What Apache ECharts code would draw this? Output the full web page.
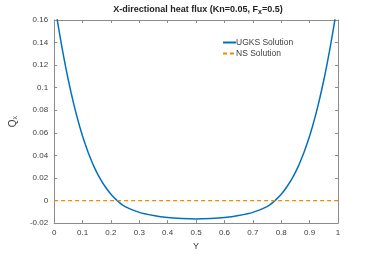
<!DOCTYPE html>
<html>
<head>
<meta charset="utf-8">
<script src="https://cdn.jsdelivr.net/npm/echarts@6/dist/echarts.min.js"></script>
<style>html,body{margin:0;padding:0;background:#fff}#c{width:374px;height:256px}</style>
</head>
<body>
<div id="c"></div>
<script>
const yPos = [0,0.01,0.02,0.03,0.04,0.05,0.06,0.07,0.08,0.09,0.10,0.11,0.12,0.14,0.16,0.18,0.20,0.225,0.25,0.30,0.35,0.40,0.45,0.50,
  0.55,0.60,0.65,0.70,0.75,0.775,0.80,0.82,0.84,0.86,0.88,0.89,0.90,0.91,0.92,0.93,0.94,0.95,0.96,0.97,0.98,0.99,1.0];
const qUgks = [0.1777,0.1616,0.1466,0.1324,0.1192,0.1068,0.0953,0.0846,0.0747,0.0656,0.0572,0.0496,0.0426,0.0303,0.0203,0.0122,0.0056,-0.0007,-0.0054,-0.0105,-0.0132,-0.0150,-0.0159,-0.0163,
  -0.0159,-0.0150,-0.0132,-0.0105,-0.0054,-0.0007,0.0056,0.0122,0.0203,0.0303,0.0426,0.0496,0.0572,0.0656,0.0747,0.0846,0.0953,0.1068,0.1192,0.1324,0.1466,0.1616,0.1777];
const nsPos = [0, 1];
const qNs = [0, 0];
const xTicks = {min: 0, max: 1, interval: 0.1};
const yTicks = {min: -0.02, max: 0.16, interval: 0.02};
const seriesNames = ['UGKS Solution', 'NS Solution'];

const axisColor = '#8c8c8c';
const textColor = '#404040';
const font = 'Liberation Sans, Arial, Helvetica, sans-serif';

const chart = echarts.init(document.getElementById('c'), null, {renderer: 'canvas'});
function axisBase(show, margin) {
  return {
    axisLine: {show: true, onZero: false, lineStyle: {color: axisColor, width: 1}},
    axisTick: {show: true, inside: true, length: 3, lineStyle: {color: axisColor}},
    splitLine: {show: false},
    axisLabel: {show: show, margin: margin, color: textColor, fontSize: 8, fontFamily: font}
  };
}
chart.setOption({
  animation: false,
  backgroundColor: '#fff',
  title: {
    text: 'X-directional heat flux (Kn=0.05, F{sub|x}=0.5)',
    left: 193, top: -2, textAlign: 'center',
    textStyle: {
      fontSize: 9, fontWeight: 'bold', color: '#222', fontFamily: font,
      rich: {sub: {fontSize: 7, fontWeight: 'bold', color: '#222', fontFamily: font, verticalAlign: 'bottom', padding: [6, 0, 0, 0]}}
    }
  },
  legend: {
    data: seriesNames,
    orient: 'vertical',
    left: 217, top: 33,
    itemWidth: 13, itemHeight: 6, itemGap: 2,
    itemStyle: {opacity: 0},
    textStyle: {fontSize: 8.5, color: textColor, fontFamily: font, padding: [0, 0, 0, -5]}
  },
  grid: {left: 49, right: 36, top: 20, bottom: 29, containLabel: false},
  xAxis: [
    Object.assign(axisBase(true, 6), {
      type: 'value', min: xTicks.min, max: xTicks.max, interval: xTicks.interval, position: 'bottom',
      name: 'Y', nameLocation: 'middle', nameGap: 18,
      nameTextStyle: {fontSize: 9, color: textColor, fontFamily: font}
    }),
    Object.assign(axisBase(false, 5), {
      type: 'value', min: xTicks.min, max: xTicks.max, interval: xTicks.interval, position: 'top'
    })
  ],
  yAxis: [
    Object.assign(axisBase(true, 6), {
      type: 'value', min: yTicks.min, max: yTicks.max, interval: yTicks.interval, position: 'left',
      name: 'Q{sub|x}', nameLocation: 'middle', nameGap: 32, nameRotate: 90,
      nameTextStyle: {fontSize: 10, color: textColor, fontFamily: font,
        rich: {sub: {fontSize: 7, color: textColor, fontFamily: font, verticalAlign: 'bottom', padding: [5, 0, 0, 0]}}}
    }),
    Object.assign(axisBase(false, 5), {
      type: 'value', min: yTicks.min, max: yTicks.max, interval: yTicks.interval, position: 'right'
    })
  ],
  series: [
    {
      name: seriesNames[0], type: 'line', xAxisIndex: 0, yAxisIndex: 0,
      data: yPos.map((v, i) => [v, qUgks[i]]),
      symbol: 'none', showSymbol: false, smooth: 0.2, clip: true,
      lineStyle: {color: '#0072BD', width: 1.5},
      itemStyle: {color: '#0072BD'}
    },
    {
      name: seriesNames[1], type: 'line', xAxisIndex: 0, yAxisIndex: 0,
      data: nsPos.map((v, i) => [v, qNs[i]]),
      symbol: 'none', showSymbol: false, clip: true, z: 3,
      lineStyle: {color: '#F08A00', width: 1.2, type: [4, 3]},
      itemStyle: {color: '#F08A00'}
    }
  ]
});
</script>
</body>
</html>
